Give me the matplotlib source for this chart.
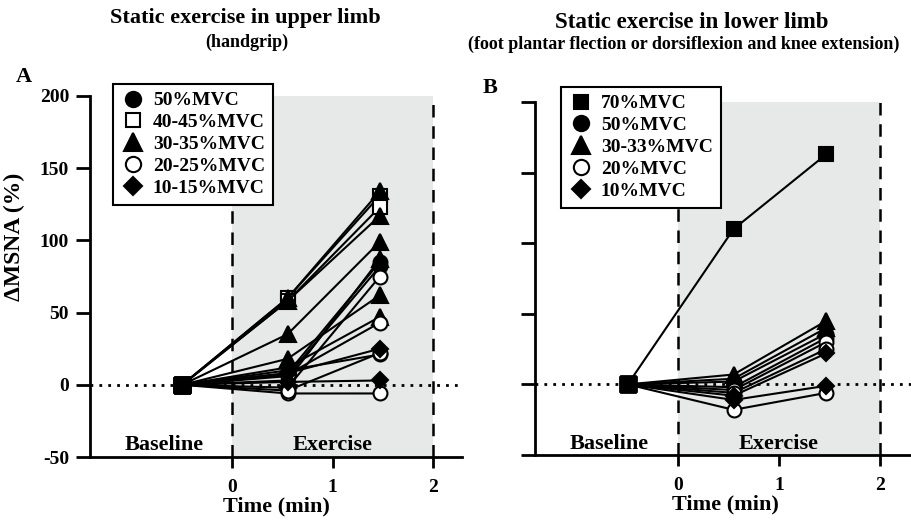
import matplotlib
matplotlib.use('Agg')
import matplotlib.pyplot as plt
from matplotlib.lines import Line2D

plt.rcParams['font.family'] = ['Liberation Serif', 'DejaVu Serif']
plt.rcParams['font.weight'] = 'bold'
plt.rcParams['axes.unicode_minus'] = False

# time points: baseline, early exercise, late exercise (min)
time_points = [-0.5, 0.55, 1.47]

# Panel A: upper limb (handgrip), change in MSNA (%)
a_labels = ['50%MVC', '40-45%MVC', '30-35%MVC', '20-25%MVC', '10-15%MVC']
a_50 = [[0, 8, 85], [0, 6, 82], [0, 10, 21]]
a_40_45 = [[0, 60, 131], [0, 58, 123]]
a_30_35 = [[0, 60, 134], [0, 58, 117], [0, 35, 99], [0, 18, 62], [0, 12, 47], [0, 3, 87]]
a_20_25 = [[0, -2, 75], [0, 7, 43], [0, -6, -6], [0, -4, 22]]
a_10_15 = [[0, 8, 25], [0, 2, 3]]

# Panel B: lower limb
b_labels = ['70%MVC', '50%MVC', '30-33%MVC', '20%MVC', '10%MVC']
b_70 = [[0, 110, 163]]
b_50 = [[0, 2, 36], [0, -2, 33]]
b_30_33 = [[0, 7, 45], [0, 4, 40]]
b_20 = [[0, -4, 30], [0, -6, 25], [0, -18, -6]]
b_10 = [[0, -11, -1], [0, -8, 22]]

# marker styles: (marker, facecolor)
sty_circle = ('o', 'black')
sty_square_open = ('s', 'white')
sty_square = ('s', 'black')
sty_tri = ('^', 'black')
sty_open = ('o', 'white')
sty_diamond = ('D', 'black')

a_groups = [(a_50, sty_circle), (a_40_45, sty_square_open), (a_30_35, sty_tri),
            (a_20_25, sty_open), (a_10_15, sty_diamond)]
b_groups = [(b_70, sty_square), (b_50, sty_circle), (b_30_33, sty_tri),
            (b_20, sty_open), (b_10, sty_diamond)]

fig = plt.figure(figsize=(9.12, 5.23), dpi=100)
W, H = 912, 523
axA = fig.add_axes([90 / W, (H - 457) / H, 372 / W, (457 - 96) / H])
axB = fig.add_axes([535 / W, (H - 455) / H, 380 / W, (455 - 102) / H])

SIZES = {'D': 8.5, '^': 11.5, 's': 9.5, 'o': 10}


def draw_panel(ax, groups, labels, xlim, show_ylabels):
    ax.set_xlim(*xlim)
    ax.set_ylim(-50, 200)
    ax.axvspan(0, 2, ymin=0, ymax=1, color='#e7e8e8', zorder=0, lw=0)
    ax.axhline(0, color='black', ls=(0, (1, 2.2)), lw=2, zorder=1)
    for xv in (0, 2):
        ax.axvline(xv, color='black', ls=(0, (5, 3.5)), lw=1.8, zorder=1)
    for series, (m, fc) in groups:
        for s in series:
            ax.plot(time_points, s, color='black', lw=1.5, marker=m, mfc=fc, mec='black',
                    mew=1.5, ms=SIZES[m], markevery=[1, 2], zorder=3)
    # baseline point for every series (all at the same spot)
    for series, _ in groups:
        for s in series:
            ax.plot(time_points[0], s[0], marker='s', color='black', ms=11, zorder=4)
    for sp in ('top', 'right'):
        ax.spines[sp].set_visible(False)
    for sp in ('left', 'bottom'):
        ax.spines[sp].set_linewidth(2)
    ax.set_xticks([0, 1, 2])
    ax.set_yticks([-50, 0, 50, 100, 150, 200])
    ax.tick_params(axis='x', length=8, width=2, pad=8, labelsize=14)
    ax.tick_params(axis='y', length=10, width=2, pad=5, labelsize=14,
                   labelleft=show_ylabels)
    ax.set_xlabel('Time (min)', fontsize=16, fontweight='bold', labelpad=0)
    ax.text(-0.68, -42, 'Baseline', ha='center', va='center', fontsize=16, fontweight='bold')
    ax.text(1.0, -42, 'Exercise', ha='center', va='center', fontsize=16, fontweight='bold')
    handles = [Line2D([], [], ls='none', marker=m, mfc=fc, mec='black', mew=1.5,
                      ms=SIZES[m] + 1)
               for _, (m, fc) in groups]
    return handles


hA = draw_panel(axA, a_groups, a_labels, (-1.42, 2.29), True)
hB = draw_panel(axB, b_groups, b_labels, (-1.42, 2.35), False)
axA.set_ylabel('\u0394MSNA (%)', fontsize=17, fontweight='bold')
axA.yaxis.set_label_coords(-65 / 372, 0.61)

for ax, h, labels, (lx, ly) in ((axA, hA, a_labels, (113, 84)), (axB, hB, b_labels, (561, 87))):
    leg = ax.legend(h, labels, loc='upper left', bbox_to_anchor=(lx / W, 1 - ly / H),
                    bbox_transform=fig.transFigure, borderaxespad=0, fancybox=False,
                    framealpha=1, edgecolor='black', handletextpad=0.35, labelspacing=0.22,
                    borderpad=0.4, handlelength=1.3, prop={'size': 14, 'weight': 'bold'})
    leg.get_frame().set_linewidth(1.5)
    leg.set_zorder(10)

fig.text(245 / W, 1 - 18 / H, 'Static exercise in upper limb', ha='center', va='center',
         fontsize=16, fontweight='bold')
fig.text(247 / W, 1 - 42 / H, '(handgrip)', ha='center', va='center',
         fontsize=13, fontweight='bold')
fig.text(692 / W, 1 - 22 / H, 'Static exercise in lower limb', ha='center', va='center',
         fontsize=16.5, fontweight='bold')
fig.text(684 / W, 1 - 44 / H, '(foot plantar flection or dorsiflexion and knee extension)',
         ha='center', va='center', fontsize=13, fontweight='bold')
fig.text(24 / W, 1 - 77 / H, 'A', ha='center', va='center', fontsize=16, fontweight='bold')
fig.text(490 / W, 1 - 88 / H, 'B', ha='center', va='center', fontsize=16, fontweight='bold')

fig.savefig('out.png', dpi=100)
